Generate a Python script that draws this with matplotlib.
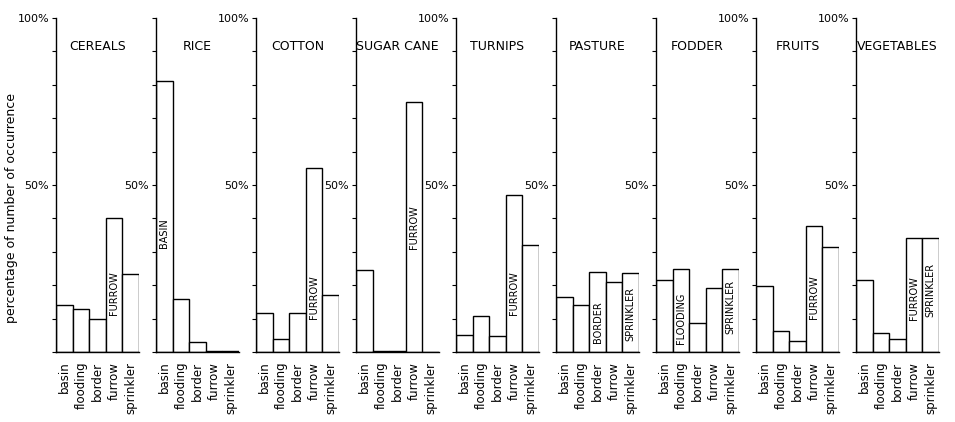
import matplotlib.pyplot as plt

# irrigation methods per crop, percentage of number of occurrence
metodos = ['basin', 'flooding', 'border', 'furrow', 'sprinkler']
cultivos = ['CEREALS', 'RICE', 'COTTON', 'SUGAR CANE', 'TURNIPS',
            'PASTURE', 'FODDER', 'FRUITS', 'VEGETABLES']

cereals = [14.2, 13.0, 10.0, 40.0, 23.3]
rice = [81.0, 15.8, 3.0, 0.3, 0.3]
cotton = [11.8, 4.0, 11.7, 55.0, 17.0]
sugar_cane = [24.7, 0.3, 0.3, 74.8, 0.0]
turnips = [5.0, 10.7, 4.7, 47.0, 32.0]
pasture = [16.5, 14.2, 24.0, 21.0, 23.8]
fodder = [21.7, 25.0, 8.8, 19.2, 25.0]
fruits = [19.8, 6.2, 3.2, 37.8, 31.5]
vegetables = [21.7, 5.8, 3.8, 34.0, 34.0]

valores = [cereals, rice, cotton, sugar_cane, turnips,
           pasture, fodder, fruits, vegetables]

# labels written inside bars: (crop index, method index, height of centre)
etiquetas = [
    (0, 3, 17.5), (1, 0, 35.5), (2, 3, 16.5), (3, 3, 37.5), (4, 3, 17.5),
    (5, 2, 9.0), (5, 4, 11.5), (6, 1, 10.0), (6, 4, 13.5),
    (7, 3, 16.5), (8, 3, 16.0), (8, 4, 18.5),
]

# panels that show the 100% label
con_100 = [0, 2, 4, 7, 8]

W, H = 955, 422
fig = plt.figure(figsize=(W / 100, H / 100), dpi=100)
fuente = 'DejaVu Sans'

for i, (nombre, vals) in enumerate(zip(cultivos, valores)):
    x0 = 56 + 100 * i
    ax = fig.add_axes([x0 / W, 70 / H, 83 / W, 334 / H])
    ax.bar(range(len(metodos)), vals, width=1.0, color='white',
           edgecolor='black', linewidth=1.0)
    ax.set_xlim(-0.5, 4.5)
    ax.set_ylim(0, 100)
    ax.spines['top'].set_visible(False)
    ax.spines['right'].set_visible(False)
    ax.spines['left'].set_linewidth(1.0)
    ax.spines['bottom'].set_linewidth(1.0)

    ax.set_xticks(range(len(metodos)))
    ax.set_xticklabels(metodos, rotation=90, fontsize=8.5, family=fuente)
    ax.tick_params(axis='x', length=0, pad=7)

    ticks = list(range(0, 101, 10))
    rotulos = []
    for t in ticks:
        if t == 50:
            rotulos.append('50%')
        elif t == 100 and i in con_100:
            rotulos.append('100%')
        else:
            rotulos.append('')
    ax.set_yticks(ticks)
    ax.set_yticklabels(rotulos, fontsize=8, family=fuente)
    ax.tick_params(axis='y', length=3, width=0.8, pad=2)

    ax.text(2, 91.5, nombre, ha='center', va='center', fontsize=9,
            family=fuente)

for c, m, y in etiquetas:
    ax = fig.axes[c]
    ax.text(m, y, metodos[m].upper(), rotation=90, ha='center',
            va='center', fontsize=7, family=fuente)

fig.text(12 / W, 1 - 208 / H, 'percentage of number of occurrence',
         rotation=90, ha='center', va='center', fontsize=9, family=fuente)

fig.savefig('out.png', dpi=100)
